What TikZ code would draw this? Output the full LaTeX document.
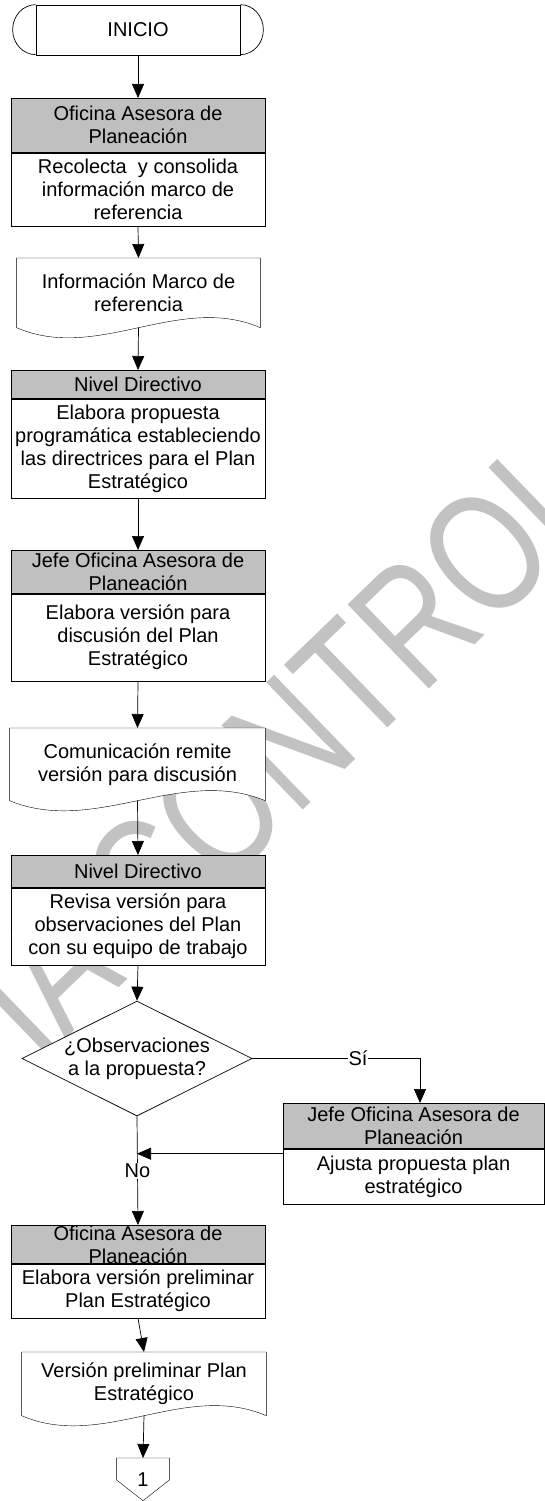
\documentclass[tikz,border=0pt]{standalone}
\usepackage{fontspec}
\usepackage{graphicx}
\setmainfont{Liberation Sans}
\usetikzlibrary{arrows.meta,shapes.geometric,calc,backgrounds}
\definecolor{hdrgray}{RGB}{192,192,192}
\definecolor{wmgray}{RGB}{194,194,194}
% document shape with wavy bottom, drawn round a node
\newcommand{\docforma}[1]{%
  \draw[fill=white] (#1.south east) -- (#1.north east) -- (#1.north west) -- (#1.south west)
    .. controls ($(#1.south west)!0.333!(#1.south east)+(0,-35)$) and ($(#1.south west)!0.667!(#1.south east)+(0,35)$) .. (#1.south east) -- cycle;}

\begin{document}
\begin{tikzpicture}[x=1pt,y=1pt,line width=0.7pt,
  font=\fontsize{20}{23}\selectfont,
  hdr/.style={draw,fill=hdrgray,minimum width=254pt,inner sep=0pt,align=center,anchor=north},
  body/.style={draw,fill=white,minimum width=254pt,inner sep=0pt,align=center,anchor=north},
  doc/.style={minimum width=#1,inner sep=0pt,align=center,anchor=north},
  flecha/.style={-{Triangle[width=12pt,length=14pt]}},
  lbl/.style={fill=white,inner sep=1pt}]
\useasboundingbox (0,0) rectangle (545,-1501);
% watermark
\begin{scope}[on background layer]
\clip (0,0) rectangle (545,-1501);
\node[font=\fontsize{170}{170}\selectfont,text=wmgray,rotate=44,anchor=base west,inner sep=0pt] (marca) at (-165,-1262) {\scalebox{0.77}[1]{COPIA CONTROLADA}};
\end{scope}
% start
\node[draw,minimum width=204pt,minimum height=50pt,inner sep=0pt] (inicio) at (138,-30) {INICIO};
\draw (inicio.north west) arc[start angle=90,end angle=270,x radius=23pt,y radius=25pt];
\draw (inicio.north east) arc[start angle=90,end angle=-90,x radius=23pt,y radius=25pt];
% left column
\node[hdr,minimum height=54pt] (b1h) at (138,-98) {Oficina Asesora de\\Planeación};
\node[body,minimum height=73pt] (b1) at (b1h.south) {Recolecta\ \ y consolida\\información marco de\\referencia};
\node[doc=243pt,minimum height=69pt] (d1) at (138.5,-258) {Información Marco de\\referencia};
\node[hdr,minimum height=28pt] (b2h) at (138,-370) {Nivel Directivo};
\node[body,minimum height=99pt] (b2) at (b2h.south) {Elabora propuesta\\programática estableciendo\\las directrices para el Plan\\Estratégico};
\node[hdr,minimum height=43pt] (b3h) at (138,-550) {Jefe Oficina Asesora de\\Planeación};
\node[body,minimum height=87pt] (b3) at (b3h.south) {Elabora versión para\\discusión del Plan\\Estratégico};
\node[doc=255pt,minimum height=72pt] (d2) at (137.5,-728) {Comunicación remite\\versión para discusión};
\node[hdr,minimum height=32pt] (b4h) at (138,-855) {Nivel Directivo};
\node[body,minimum height=77pt] (b4) at (b4h.south) {Revisa versión para\\observaciones del Plan\\con su equipo de trabajo};
\node[draw,fill=white,diamond,aspect=2,minimum width=230pt,minimum height=115pt,inner sep=0pt,align=center] (dec) at (137,-1058.5) {¿Observaciones\\a la propuesta?};
% right branch
\node[hdr,minimum width=261pt,minimum height=45pt] (b5h) at (413.5,-1103) {Jefe Oficina Asesora de\\Planeación};
\node[body,minimum width=261pt,minimum height=55pt] (b5) at (b5h.south) {Ajusta propuesta plan\\estratégico};
% end of page
\node[hdr,minimum height=38pt] (b6h) at (138,-1225) {Oficina Asesora de\\Planeación};
\node[body,minimum height=54pt] (b6) at (b6h.south) {Elabora versión preliminar\\Plan Estratégico};
\node[doc=244pt,minimum height=63pt] (d3) at (144,-1352) {Versión preliminar Plan\\Estratégico};
\node[minimum width=52pt,minimum height=42pt,inner sep=0pt,anchor=north] (c1) at (143,-1458) {1};
\begin{scope}[on background layer]
\docforma{d1}
\docforma{d2}
\docforma{d3}
\draw[fill=white] (c1.north west) -- (c1.north east) -- ($(c1.north east)+(0,-22)$) -- (c1.south) -- ($(c1.north west)+(0,-22)$) -- cycle;
\end{scope}
% connectors
\draw[flecha] (inicio.south) -- (b1h.north);
\draw[flecha] (b1.south) -- (d1.north);
\draw[flecha] (d1.south) -- (b2h.north);
\draw[flecha] (b2.south) -- (b3h.north);
\draw[flecha] (b3.south) -- (d2.north);
\draw[flecha] (d2.south) -- (b4h.north);
\draw[flecha] (b4.south) -- (dec.north);
\coordinate (giro) at ([xshift=6.5pt]b5h.north |- dec.east);
\draw[flecha] (dec.east) -- node[lbl,pos=0.63]{Sí} (giro) -- ([xshift=6.5pt]b5h.north);
\coordinate (ret) at ([yshift=-5pt]b5.north west);
\draw[flecha] (ret) -- (ret -| dec.south);
\draw[flecha] (dec.south) -- node[lbl]{No} (b6h.north);
\draw[flecha] (b6.south) -- (d3.north);
\draw[flecha] (d3.south) -- (c1.north);
\end{tikzpicture}
\end{document}
